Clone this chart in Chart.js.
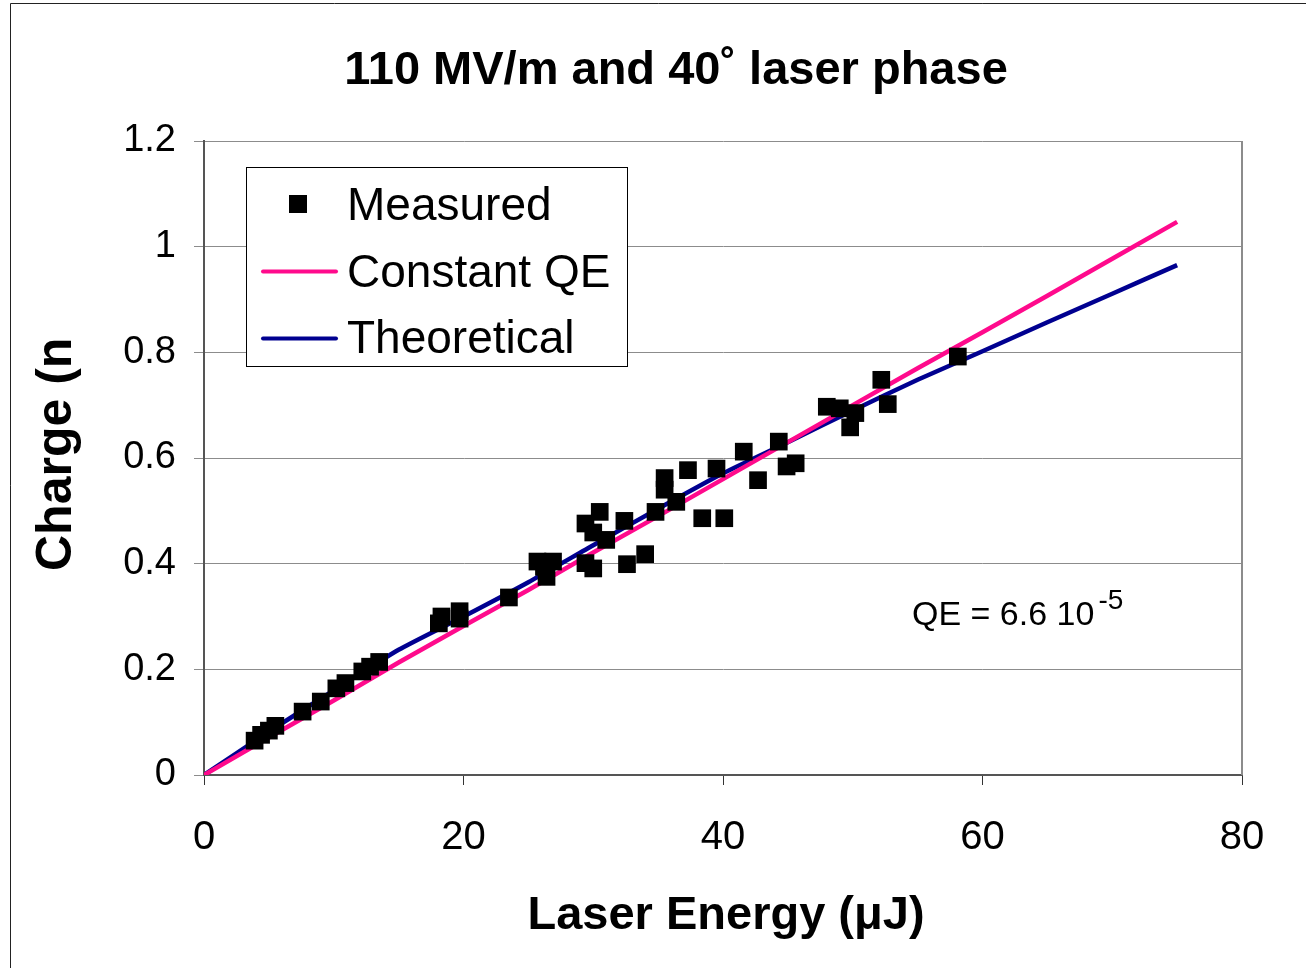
<!DOCTYPE html>
<html>
<head>
<meta charset="utf-8">
<script src="https://cdn.jsdelivr.net/npm/chart.js@4/dist/chart.umd.min.js"></script>
<style>
  html, body { margin: 0; padding: 0; background: #ffffff; }
  canvas { display: block; }
</style>
</head>
<body>
<canvas id="c" width="1306" height="968"></canvas>
<script>
// ---- Data ----
const energyMeasured = [3.9, 4.4, 5.0, 5.5, 7.6, 9.0, 10.2, 10.9, 12.2, 12.8, 13.5,
  18.1, 18.3, 19.7, 19.7, 23.5, 25.7, 26.9, 26.2, 26.4, 29.4, 30.0, 32.6, 34.0,
  29.4, 30.5, 30.0, 31.0, 32.4, 34.8, 35.5, 35.5, 36.4, 37.3, 38.4, 39.5, 40.1,
  41.6, 42.7, 44.3, 44.9, 45.6, 48.0, 49.0, 50.2, 49.8, 52.2, 52.7, 58.1];
const chargeMeasured = [0.065, 0.076, 0.084, 0.093, 0.120, 0.139, 0.164, 0.174, 0.196, 0.205, 0.214,
  0.287, 0.300, 0.310, 0.296, 0.336, 0.404, 0.404, 0.394, 0.375, 0.401, 0.391, 0.399, 0.418,
  0.476, 0.498, 0.459, 0.445, 0.481, 0.498, 0.540, 0.562, 0.517, 0.577, 0.486, 0.580, 0.486,
  0.612, 0.558, 0.631, 0.584, 0.590, 0.697, 0.694, 0.685, 0.658, 0.748, 0.702, 0.792];

const energyModel = [0, 5, 10, 15, 20, 25, 30, 35, 40, 45, 50, 55, 60, 65, 70, 75];
const constantQE  = [0, 0.071, 0.141, 0.213, 0.282, 0.350, 0.421, 0.490, 0.560, 0.630, 0.700, 0.770, 0.838, 0.907, 0.977, 1.047];
const theoretical = [0, 0.082, 0.160, 0.237, 0.300, 0.365, 0.435, 0.504, 0.571, 0.630, 0.690, 0.748, 0.802, 0.857, 0.911, 0.965];

const xTickLabels = ['0', '20', '40', '60', '80'];
const yTickLabels = ['0', '0.2', '0.4', '0.6', '0.8', '1', '1.2'];

const seriesNames = ['Measured', 'Constant QE', 'Theoretical'];
const chartTitle = '110 MV/m and 40\u02DA laser phase';
const xTitle = 'Laser Energy (\u03BCJ)';
const yTitle = 'Charge (nC)';
const qeNote = 'QE = 6.6 10';
const qeExp = '-5';

const FONT = '"Liberation Sans", Arial, Helvetica, sans-serif';
const PINK = '#FF0A8C';
const NAVY = '#000090';

const pairs = (xs, ys) => xs.map((x, i) => ({ x: x, y: ys[i] }));

const decorPlugin = {
  id: 'decor',
  beforeDraw(chart) {
    const ctx = chart.ctx;
    ctx.save();
    ctx.fillStyle = '#ffffff';
    ctx.fillRect(0, 0, chart.width, chart.height);
    ctx.strokeStyle = '#222222';
    ctx.lineWidth = 1;
    ctx.beginPath();
    ctx.moveTo(10.5, chart.height);
    ctx.lineTo(10.5, 3.5);
    ctx.lineTo(chart.width, 3.5);
    ctx.stroke();
    ctx.restore();
  },
  afterDraw(chart) {
    const ctx = chart.ctx;
    const a = chart.chartArea;
    ctx.save();
    // right plot border
    ctx.strokeStyle = '#8c8c8c';
    ctx.lineWidth = 2;
    ctx.beginPath();
    ctx.moveTo(a.right, a.top);
    ctx.lineTo(a.right, a.bottom);
    ctx.stroke();

    // chart title
    ctx.fillStyle = '#000000';
    ctx.font = 'bold 47px ' + FONT;
    ctx.textAlign = 'center';
    ctx.textBaseline = 'alphabetic';
    ctx.fillText(chartTitle, 676, 84);

    // x axis title
    ctx.font = 'bold 47px ' + FONT;
    ctx.fillText(xTitle, 726, 929);

    // y axis title (clipped at top like the reference)
    ctx.save();
    ctx.beginPath();
    ctx.rect(0, 338, 120, 600);
    ctx.clip();
    ctx.translate(71, 571);
    ctx.rotate(-Math.PI / 2);
    ctx.textAlign = 'left';
    ctx.font = 'bold 50px ' + FONT;
    ctx.fillText(yTitle, 0, 0);
    ctx.restore();

    // QE annotation
    ctx.textAlign = 'left';
    ctx.font = '34px ' + FONT;
    ctx.fillText(qeNote, 912, 625);
    const w = ctx.measureText(qeNote).width;
    ctx.font = '28px ' + FONT;
    ctx.fillText(qeExp, 912 + w + 4, 609);

    // legend box
    const lx = 246.5, ly = 167.5, lw = 381, lh = 199;
    ctx.fillStyle = '#ffffff';
    ctx.fillRect(lx, ly, lw, lh);
    ctx.strokeStyle = '#000000';
    ctx.lineWidth = 1;
    ctx.strokeRect(lx, ly, lw, lh);
    const ds = chart.data.datasets;
    // Measured marker
    ctx.fillStyle = ds[0].backgroundColor;
    ctx.fillRect(289, 195, 18, 18);
    // line samples
    ctx.lineCap = 'round';
    ctx.lineWidth = 4;
    ctx.strokeStyle = ds[1].borderColor;
    ctx.beginPath(); ctx.moveTo(263, 271.5); ctx.lineTo(336, 271.5); ctx.stroke();
    ctx.strokeStyle = ds[2].borderColor;
    ctx.beginPath(); ctx.moveTo(263, 338.5); ctx.lineTo(336, 338.5); ctx.stroke();
    ctx.fillStyle = '#000000';
    ctx.font = '46px ' + FONT;
    ctx.textAlign = 'left';
    ctx.fillText(ds[0].label, 347, 220);
    ctx.fillText(ds[1].label, 347, 287);
    ctx.fillText(ds[2].label, 347, 353);
    ctx.restore();
  }
};

new Chart(document.getElementById('c'), {
  type: 'scatter',
  data: {
    datasets: [
      {
        label: seriesNames[0],
        data: pairs(energyMeasured, chargeMeasured),
        pointStyle: 'rect',
        pointRadius: 12.5,
        pointHoverRadius: 12.5,
        backgroundColor: '#000000',
        borderColor: '#000000',
        borderWidth: 0,
        showLine: false
      },
      {
        label: seriesNames[1],
        data: pairs(energyModel, constantQE),
        showLine: true,
        borderColor: PINK,
        backgroundColor: PINK,
        borderWidth: 4.5,
        pointRadius: 0,
        tension: 0
      },
      {
        label: seriesNames[2],
        data: pairs(energyModel, theoretical),
        showLine: true,
        borderColor: NAVY,
        backgroundColor: NAVY,
        borderWidth: 4.5,
        pointRadius: 0,
        tension: 0.2
      }
    ]
  },
  options: {
    responsive: false,
    animation: false,
    devicePixelRatio: 1,
    layout: { padding: { left: 0, top: 141, right: 64, bottom: 0 } },
    plugins: {
      legend: { display: false },
      title: { display: false },
      tooltip: { enabled: false }
    },
    scales: {
      x: {
        type: 'linear',
        min: 0, max: 80,
        afterFit(s) { s.height = 193; },
        afterBuildTicks(s) { s.ticks = xTickLabels.map(t => ({ value: Number(t) })); },
        ticks: {
          color: '#000000',
          font: { family: FONT, size: 40 },
          padding: 29,
          callback: (v) => xTickLabels.find(t => Number(t) === v) ?? ''
        },
        grid: { drawOnChartArea: false, drawTicks: true, tickLength: 10, color: '#333333', lineWidth: 1 },
        border: { display: true, color: '#555555', width: 2 }
      },
      y: {
        type: 'linear',
        min: 0, max: 1.2,
        afterFit(s) { s.width = 204; },
        afterBuildTicks(s) { s.ticks = yTickLabels.map(t => ({ value: Number(t) })); },
        ticks: {
          color: '#000000',
          font: { family: FONT, size: 38 },
          padding: 18,
          callback: (v) => yTickLabels.find(t => Math.abs(Number(t) - v) < 1e-9) ?? ''
        },
        grid: { drawOnChartArea: true, drawTicks: true, tickLength: 10, color: '#8c8c8c', lineWidth: 1 },
        border: { display: true, color: '#555555', width: 2 }
      }
    }
  },
  plugins: [decorPlugin]
});
</script>
</body>
</html>
